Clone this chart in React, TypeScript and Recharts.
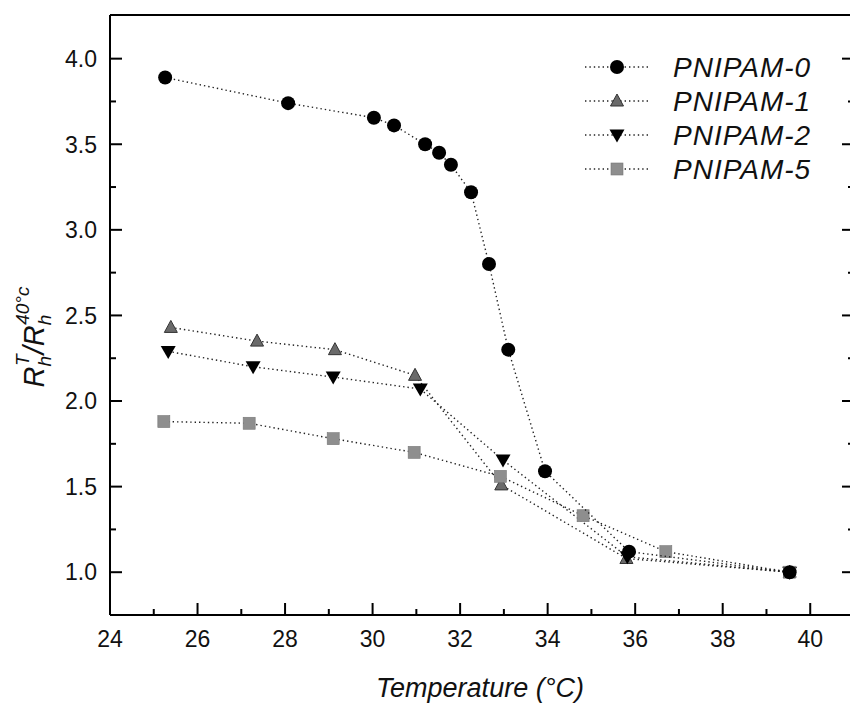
import React from 'react';
import { ComposedChart, Scatter, XAxis, YAxis } from 'recharts';

const FONT = '"Liberation Sans", Arial, Helvetica, sans-serif';

// temperatures (°C) and R_h^T / R_h^40°C
const p0Temp = [25.26, 28.07, 30.03, 30.49, 31.2, 31.52, 31.79, 32.25, 32.66, 33.1, 33.94, 35.86, 39.53];
const p0Ratio = [3.89, 3.74, 3.655, 3.61, 3.5, 3.45, 3.38, 3.22, 2.8, 2.3, 1.59, 1.12, 1.0];

const p1Temp = [25.39, 27.36, 29.14, 30.97, 32.94, 35.8, 39.53];
const p1Ratio = [2.43, 2.35, 2.3, 2.15, 1.51, 1.08, 1.0];

const p2Temp = [25.33, 27.27, 29.1, 31.09, 32.98, 35.82, 39.53];
const p2Ratio = [2.29, 2.2, 2.14, 2.07, 1.655, 1.09, 1.0];

const p5Temp = [25.23, 27.18, 29.1, 30.95, 32.92, 34.81, 36.7, 39.53];
const p5Ratio = [1.88, 1.87, 1.78, 1.7, 1.56, 1.33, 1.12, 1.0];

const xTicks = [24, 25, 26, 27, 28, 29, 30, 31, 32, 33, 34, 35, 36, 37, 38, 39, 40];
const yTicks = [1.0, 1.25, 1.5, 1.75, 2.0, 2.25, 2.5, 2.75, 3.0, 3.25, 3.5, 3.75, 4.0];

const seriesNames = ['PNIPAM-0', 'PNIPAM-1', 'PNIPAM-2', 'PNIPAM-5'];

const pts = (xs: number[], ys: number[]) => xs.map((x, i) => ({ x, y: ys[i] }));

const XDOMAIN: [number, number] = [24, 41];
const YDOMAIN: [number, number] = [0.75, 4.255];

const lineStyle = { stroke: '#222', strokeWidth: 1.4, strokeDasharray: '1.4 3' };

type Kind = 'circle' | 'up' | 'down' | 'square';

function Marker({ kind, cx, cy }: { kind: Kind; cx: number; cy: number }) {
  if (kind === 'circle') return <circle cx={cx} cy={cy} r={7} fill="#000" />;
  if (kind === 'up')
    return (
      <polygon
        points={`${cx},${cy - 7} ${cx - 6.5},${cy + 5} ${cx + 6.5},${cy + 5}`}
        fill="#6a6a6a"
        stroke="#333"
        strokeWidth={1}
      />
    );
  if (kind === 'down')
    return (
      <polygon
        points={`${cx - 7.5},${cy - 5.5} ${cx + 7.5},${cy - 5.5} ${cx},${cy + 7.5}`}
        fill="#000"
      />
    );
  return <rect x={cx - 6} y={cy - 6} width={12} height={12} fill="#8e8e8e" stroke="#777" strokeWidth={0.6} />;
}

const shapeOf = (kind: Kind) => (props: any) => <Marker kind={kind} cx={props.cx} cy={props.cy} />;

const isMajorY = (v: number) => Math.abs(v * 2 - Math.round(v * 2)) < 1e-6;

const BottomTick = (props: any) => {
  const { x, y, payload } = props;
  const major = payload.value % 2 === 0;
  return (
    <g>
      <line x1={x} y1={y} x2={x} y2={y - (major ? 12 : 6)} stroke="#000" strokeWidth={2} />
      {major && (
        <text x={x} y={y + 32} textAnchor="middle" fontSize={23} fontFamily={FONT} fill="#111">
          {payload.value}
        </text>
      )}
    </g>
  );
};

const TopTick = (props: any) => {
  const { x, y, payload } = props;
  const major = payload.value % 2 === 0;
  return <line x1={x} y1={y} x2={x} y2={y + (major ? 12 : 6)} stroke="#000" strokeWidth={2} />;
};

const LeftTick = (props: any) => {
  const { x, y, payload } = props;
  const major = isMajorY(payload.value);
  return (
    <g>
      <line x1={x} y1={y} x2={x + (major ? 12 : 6)} y2={y} stroke="#000" strokeWidth={2} />
      {major && (
        <text x={x - 13} y={y} dy="0.36em" textAnchor="end" fontSize={23} fontFamily={FONT} fill="#111">
          {payload.value.toFixed(1)}
        </text>
      )}
    </g>
  );
};

const RightTick = (props: any) => {
  const { x, y, payload } = props;
  const major = isMajorY(payload.value);
  return <line x1={x} y1={y} x2={x - (major ? 12 : 6)} y2={y} stroke="#000" strokeWidth={2} />;
};

const XTitle = () => (
  <text x={480} y={697} textAnchor="middle" fontSize={27} fontStyle="italic" fontFamily={FONT} fill="#111">
    Temperature (°C)
  </text>
);

const YTitle = () => {
  const cx = 44;
  const cy = 337;
  return (
    <text
      x={cx}
      y={cy}
      transform={`rotate(-90, ${cx}, ${cy})`}
      textAnchor="middle"
      fontStyle="italic"
      fontFamily={FONT}
      fill="#111"
      fontSize={29}
    >
      <tspan>R</tspan>
      <tspan fontSize={19} dy={7}>h</tspan>
      <tspan fontSize={19} dx={-10} dy={-22}>T</tspan>
      <tspan dy={15}>/R</tspan>
      <tspan fontSize={19} dy={7}>h</tspan>
      <tspan fontSize={19} dx={-10} dy={-22}>40°c</tspan>
    </text>
  );
};

const legendKinds: Kind[] = ['circle', 'up', 'down', 'square'];

function LegendOverlay() {
  const rowY = [67, 101, 135, 169];
  return (
    <svg width={850} height={704} style={{ position: 'absolute', left: 0, top: 0, pointerEvents: 'none' }}>
      {seriesNames.map((name, i) => (
        <g key={name}>
          <line x1={585} y1={rowY[i]} x2={648} y2={rowY[i]} {...lineStyle} />
          <Marker kind={legendKinds[i]} cx={617} cy={rowY[i]} />
          <text
            x={673}
            y={rowY[i]}
            dy="0.36em"
            fontSize={28}
            letterSpacing={1}
            fontStyle="italic"
            fontFamily={FONT}
            fill="#111"
          >
            {name}
          </text>
        </g>
      ))}
    </svg>
  );
}

export default function App() {
  return (
    <div
      style={{
        position: 'absolute',
        left: 0,
        top: 0,
        width: 850,
        height: 704,
        overflow: 'hidden',
        background: '#fff',
      }}
    >
      <ComposedChart width={856} height={704} margin={{ top: 14, right: 1, bottom: 88, left: 109 }}>
        <XAxis
          xAxisId="b"
          type="number"
          dataKey="x"
          domain={XDOMAIN}
          allowDataOverflow
          ticks={xTicks}
          interval={0}
          height={1}
          tickSize={0}
          tickMargin={0}
          tickLine={false}
          tick={BottomTick}
          axisLine={{ stroke: '#000', strokeWidth: 2 }}
          label={{ content: XTitle }}
        />
        <XAxis
          xAxisId="t"
          orientation="top"
          type="number"
          domain={XDOMAIN}
          allowDataOverflow
          ticks={xTicks}
          interval={0}
          height={1}
          tickSize={0}
          tickMargin={0}
          tickLine={false}
          tick={TopTick}
          axisLine={{ stroke: '#000', strokeWidth: 2 }}
        />
        <YAxis
          yAxisId="l"
          type="number"
          dataKey="y"
          domain={YDOMAIN}
          allowDataOverflow
          ticks={yTicks}
          interval={0}
          width={1}
          tickSize={0}
          tickMargin={0}
          tickLine={false}
          tick={LeftTick}
          axisLine={{ stroke: '#000', strokeWidth: 2 }}
          label={{ content: YTitle }}
        />
        <YAxis
          yAxisId="r"
          orientation="right"
          type="number"
          domain={YDOMAIN}
          allowDataOverflow
          ticks={yTicks}
          interval={0}
          width={1}
          tickSize={0}
          tickMargin={0}
          tickLine={false}
          tick={RightTick}
          axisLine={{ stroke: '#000', strokeWidth: 2 }}
        />
        <Scatter
          name={seriesNames[1]}
          xAxisId="b"
          yAxisId="l"
          data={pts(p1Temp, p1Ratio)}
          line={lineStyle}
          lineType="joint"
          shape={shapeOf('up')}
          isAnimationActive={false}
        />
        <Scatter
          name={seriesNames[2]}
          xAxisId="b"
          yAxisId="l"
          data={pts(p2Temp, p2Ratio)}
          line={lineStyle}
          lineType="joint"
          shape={shapeOf('down')}
          isAnimationActive={false}
        />
        <Scatter
          name={seriesNames[3]}
          xAxisId="b"
          yAxisId="l"
          data={pts(p5Temp, p5Ratio)}
          line={lineStyle}
          lineType="joint"
          shape={shapeOf('square')}
          isAnimationActive={false}
        />
        <Scatter
          name={seriesNames[0]}
          xAxisId="b"
          yAxisId="l"
          data={pts(p0Temp, p0Ratio)}
          line={lineStyle}
          lineType="joint"
          shape={shapeOf('circle')}
          isAnimationActive={false}
        />
      </ComposedChart>
      <LegendOverlay />
    </div>
  );
}
